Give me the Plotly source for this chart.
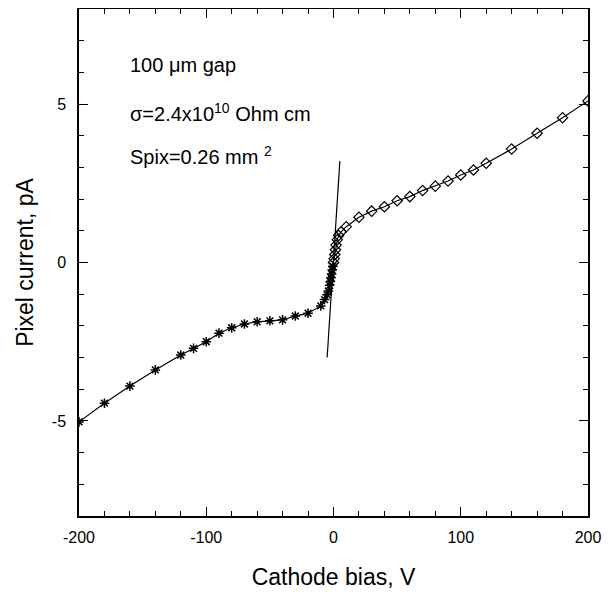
import plotly.graph_objects as go

# Negative bias branch (asterisk markers)
neg_bias = [-200, -180, -160, -140, -120, -110, -100, -90, -80, -70, -60, -50,
            -40, -30, -20, -10, -7, -5, -4, -3, -2.5, -2, -1.5, -1, -0.5]
neg_current = [-5.03, -4.44, -3.90, -3.39, -2.92, -2.71, -2.50, -2.23, -2.06, -1.94,
               -1.87, -1.84, -1.81, -1.69, -1.60, -1.37, -1.17, -1.02, -0.90, -0.72,
               -0.60, -0.48, -0.36, -0.24, -0.12]

# Positive bias branch (diamond markers)
pos_bias = [0, 0.5, 1, 1.5, 2, 3, 4, 6, 10, 20, 30, 40, 50, 60, 70, 80, 90, 100,
            110, 120, 140, 160, 180, 200]
pos_current = [0.0, 0.12, 0.25, 0.40, 0.55, 0.72, 0.85, 0.97, 1.13, 1.43, 1.62, 1.76,
               1.95, 2.08, 2.27, 2.41, 2.57, 2.76, 2.92, 3.13, 3.58, 4.08, 4.57, 5.10]

# Ohmic line through the origin region
fit_bias = [-5, 5]
fit_current = [-3.0, 3.2]

# Tick labels (plain hyphen minus, as in the original)
x_ticks = [-200, -100, 0, 100, 200]
x_ticktext = ['-200', '-100', '0', '100', '200']
y_ticks = [-5, 0, 5]
y_ticktext = ['-5', '0', '5']

font_family = "Liberation Sans, Arial, sans-serif"

fig = go.Figure()

# Connecting curve
fig.add_trace(go.Scatter(
    x=neg_bias + pos_bias,
    y=neg_current + pos_current,
    mode='lines',
    line=dict(color='black', width=1.2),
    showlegend=False
))

fig.add_trace(go.Scatter(
    x=neg_bias, y=neg_current,
    mode='markers',
    marker=dict(symbol='asterisk-open', size=8, color='black',
                line=dict(color='black', width=1.5)),
    showlegend=False
))

fig.add_trace(go.Scatter(
    x=pos_bias, y=pos_current,
    mode='markers',
    marker=dict(symbol='diamond-open', size=8, color='black',
                line=dict(color='black', width=1.2)),
    showlegend=False
))

fig.add_trace(go.Scatter(
    x=fit_bias, y=fit_current,
    mode='lines',
    line=dict(color='black', width=1.2),
    showlegend=False
))

# Text labels
labels = [
    ("100 \u03bcm gap", 0.889),
    ("\u03c3=2.4x10<sup>10</sup> Ohm cm", 0.796),
    ("Spix=0.26 mm <sup>2</sup>", 0.711),
]
for text, ypos in labels:
    fig.add_annotation(
        x=0.096, y=ypos, xref='paper', yref='paper',
        text=text, showarrow=False, xanchor='left', yanchor='middle',
        font=dict(family=font_family, size=20, color='black')
    )

axis_common = dict(
    showgrid=False, zeroline=False, automargin=False,
    showline=True, linecolor='black', linewidth=1.5, mirror='ticks',
    ticks='inside', ticklen=9, tickwidth=1.2, tickcolor='black',
    tickfont=dict(family=font_family, size=16, color='black'),
)

fig.update_xaxes(
    range=[-200, 200], tickvals=x_ticks, ticktext=x_ticktext,
    minor=dict(dtick=20, ticks='inside', ticklen=5, tickwidth=1, tickcolor='black'),
    title=dict(text='Cathode bias, V', standoff=24,
               font=dict(family=font_family, size=23, color='black')),
    ticklabelstandoff=6,
    **axis_common
)

fig.update_yaxes(
    range=[-8, 8], tickvals=y_ticks, ticktext=y_ticktext,
    minor=dict(dtick=1, ticks='inside', ticklen=5, tickwidth=1, tickcolor='black'),
    title=dict(text='Pixel current, pA', standoff=12,
               font=dict(family=font_family, size=23, color='black')),
    ticklabelstandoff=8,
    **axis_common
)

# The page adds an 8 px body margin, so the margins are shifted to compensate
fig.update_layout(
    width=610, height=592,
    margin=dict(l=71, r=30, t=1, b=84),
    plot_bgcolor='white', paper_bgcolor='white',
)

fig.write_html("out.html")
